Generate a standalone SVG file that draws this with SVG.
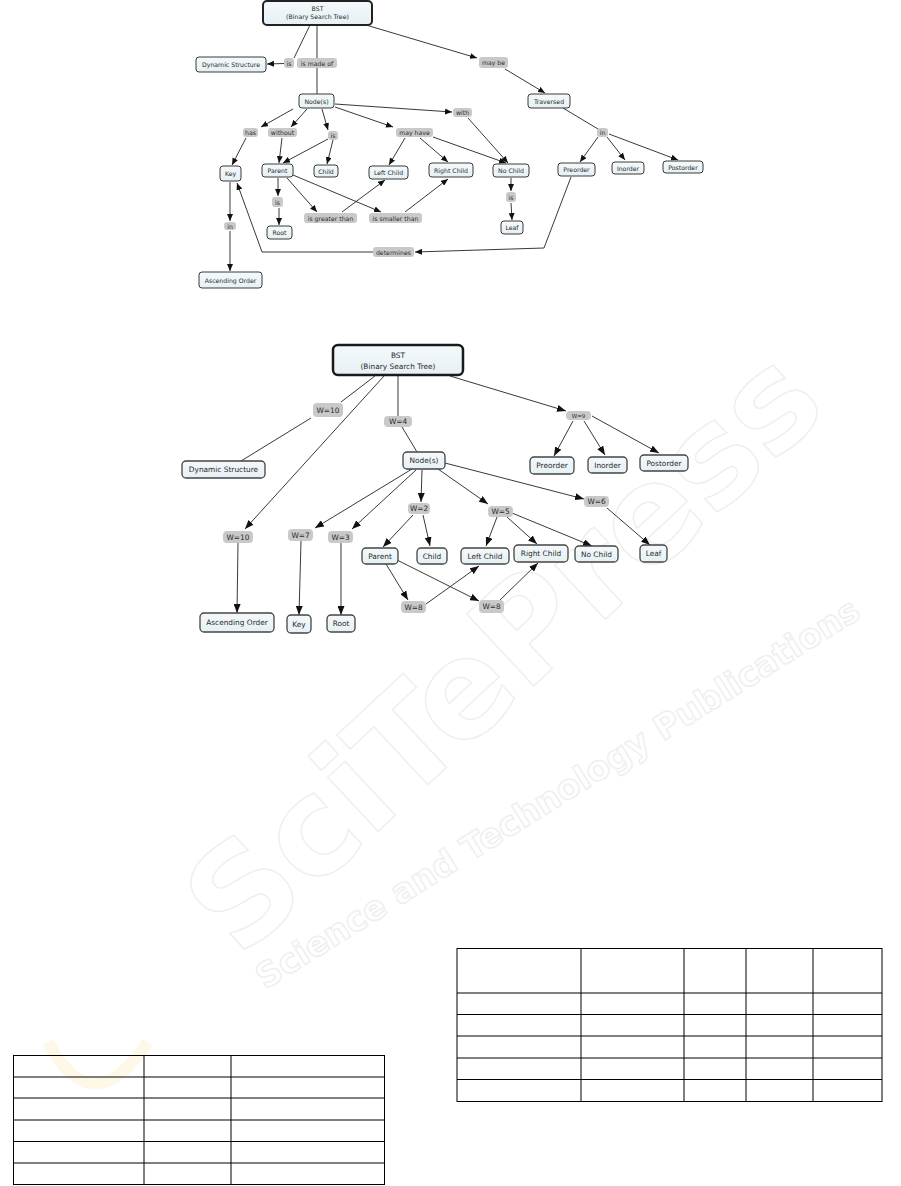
<svg xmlns="http://www.w3.org/2000/svg" width="901" height="1186" viewBox="0 0 901 1186">
<defs>
<marker id="as" markerWidth="7" markerHeight="6" refX="7" refY="3" orient="auto" markerUnits="userSpaceOnUse"><path d="M0,0 L7,3 L0,6 z" fill="#111"/></marker>
<marker id="ab" markerWidth="9" markerHeight="7" refX="9" refY="3.5" orient="auto" markerUnits="userSpaceOnUse"><path d="M0,0 L9,3.5 L0,7 z" fill="#111"/></marker>
<linearGradient id="ng" x1="0" y1="0" x2="0" y2="1"><stop offset="0" stop-color="#f4f9fb"/><stop offset="1" stop-color="#e6f0f4"/></linearGradient>
</defs>
<style>
.n rect{fill:url(#ng);stroke:#3a3a3a;stroke-width:1}
.nb rect{fill:url(#ng);stroke:#444;stroke-width:1.3}
.l rect{fill:#c9c9c9;stroke:none}
text{font-family:"DejaVu Sans","Liberation Sans",sans-serif;fill:#2a2a2a;text-anchor:middle;dominant-baseline:central}
.t text{font-size:6.2px}
.b text{font-size:7.4px}
.c line,.c polyline{stroke:#222;stroke-width:0.9;fill:none}
.cs line,.cs polyline{marker-end:url(#as)}
.cb line{marker-end:url(#ab)}
.tb line{stroke:#000;stroke-width:1}
#watermark text{fill:none;stroke:#efefef;stroke-width:1.5;font-family:"DejaVu Sans",sans-serif;font-weight:bold;text-anchor:start;dominant-baseline:auto}
</style>
<rect width="901" height="1186" fill="#fff"/>
<g id="watermark">
<path d="M48,1042 Q92,1125 148,1042" fill="none" stroke="#fef8e8" stroke-width="12"/>
<text x="0" y="0" font-size="135" transform="translate(240,960) rotate(-43)">SciTePress</text>
<text x="0" y="0" font-size="34" transform="translate(265,990) rotate(-32)">Science and Technology Publications</text>
</g>

<!-- TOP DIAGRAM connectors -->
<g id="top-connectors" class="c">
<line x1="310" y1="25" x2="294" y2="58"/>
<line x1="317" y1="25" x2="317" y2="58"/>
<line x1="317" y1="68" x2="317" y2="94"/>
<line x1="563" y1="108" x2="598" y2="129"/>
<g class="cs">
<line x1="284" y1="63.5" x2="267" y2="64"/>
<line x1="366" y1="25" x2="477" y2="58"/>
<line x1="505" y1="69" x2="545" y2="93"/>
<line x1="598" y1="137" x2="580" y2="162"/>
<line x1="607" y1="137" x2="625" y2="160"/>
<line x1="609" y1="134" x2="678" y2="160"/>
<line x1="335" y1="104" x2="452" y2="112"/>
<line x1="468" y1="118" x2="508" y2="163"/>
<line x1="293" y1="109" x2="261" y2="127"/>
<line x1="307" y1="109" x2="291" y2="127"/>
<line x1="322" y1="109" x2="328" y2="130"/>
<line x1="335" y1="107" x2="393" y2="127"/>
<line x1="246" y1="138" x2="232" y2="165"/>
<line x1="282" y1="138" x2="279" y2="163"/>
<line x1="328" y1="139" x2="283" y2="163"/>
<line x1="333" y1="140" x2="327" y2="164"/>
<line x1="405" y1="138" x2="389" y2="165"/>
<line x1="420" y1="138" x2="448" y2="162"/>
<line x1="433" y1="137" x2="506" y2="163"/>
<line x1="511" y1="178" x2="511" y2="191"/>
<line x1="511" y1="203" x2="512" y2="220"/>
<line x1="278" y1="178" x2="278" y2="196"/>
<line x1="279" y1="208" x2="279" y2="225"/>
<line x1="287" y1="178" x2="317" y2="212"/>
<line x1="293" y1="175" x2="381" y2="212"/>
<line x1="342" y1="212" x2="385" y2="180"/>
<line x1="405" y1="212" x2="448" y2="179"/>
<line x1="230" y1="182" x2="230" y2="221"/>
<line x1="230" y1="231" x2="230" y2="271"/>
<polyline points="571,177 544,248 415,252"/>
<polyline points="373,252 262,252 237,183"/>
</g>
</g>

<!-- TOP DIAGRAM nodes -->
<g class="t">
<g id="t-bst" class="n"><rect x="263" y="1" width="109" height="24" rx="4" style="stroke-width:2;stroke:#222"/><text x="317.5" y="8.5">BST</text><text x="317.5" y="16.5">(Binary Search Tree)</text></g>
<g id="t-dynamic" class="n"><rect x="196" y="57" width="70" height="15" rx="3"/><text x="231" y="64.5">Dynamic Structure</text></g>
<g id="t-nodes" class="n"><rect x="299" y="94" width="35" height="14" rx="3"/><text x="316.5" y="101">Node(s)</text></g>
<g id="t-traversed" class="n"><rect x="528" y="94" width="42" height="14" rx="3"/><text x="549" y="101">Traversed</text></g>
<g id="t-key" class="n"><rect x="220" y="166" width="21" height="15" rx="3"/><text x="230.5" y="173.5">Key</text></g>
<g id="t-parent" class="n"><rect x="262" y="164" width="31" height="13" rx="3"/><text x="277.5" y="170.5">Parent</text></g>
<g id="t-child" class="n"><rect x="314" y="165" width="24" height="12" rx="3"/><text x="326" y="171">Child</text></g>
<g id="t-left" class="n"><rect x="369" y="166" width="39" height="13" rx="3"/><text x="388.5" y="172.5">Left Child</text></g>
<g id="t-right" class="n"><rect x="429" y="163" width="44" height="14" rx="3"/><text x="451" y="170">Right Child</text></g>
<g id="t-nochild" class="n"><rect x="493" y="164" width="36" height="13" rx="3"/><text x="511" y="170.5">No Child</text></g>
<g id="t-preorder" class="n"><rect x="558" y="163" width="37" height="13" rx="3"/><text x="576.5" y="169.5">Preorder</text></g>
<g id="t-inorder" class="n"><rect x="612" y="162" width="32" height="12" rx="3"/><text x="628" y="168">Inorder</text></g>
<g id="t-postorder" class="n"><rect x="663" y="161" width="40" height="12" rx="3"/><text x="683" y="167">Postorder</text></g>
<g id="t-leaf" class="n"><rect x="501" y="221" width="22" height="13" rx="3"/><text x="512" y="227.5">Leaf</text></g>
<g id="t-root" class="n"><rect x="267" y="226" width="25" height="13" rx="3"/><text x="279.5" y="232.5">Root</text></g>
<g id="t-asc" class="n"><rect x="199" y="272" width="63" height="16" rx="3"/><text x="230.5" y="280">Ascending Order</text></g>

<g id="tl-is1" class="l"><rect x="284" y="58" width="10" height="10" rx="3"/><text x="289" y="63">is</text></g>
<g id="tl-madeof" class="l"><rect x="297" y="58" width="40" height="10" rx="3"/><text x="317" y="63">is made of</text></g>
<g id="tl-maybe" class="l"><rect x="479" y="57" width="29" height="11" rx="3"/><text x="493.5" y="62.5">may be</text></g>
<g id="tl-has" class="l"><rect x="243" y="128" width="15" height="9" rx="3"/><text x="250.5" y="132.5">has</text></g>
<g id="tl-without" class="l"><rect x="268" y="128" width="29" height="9" rx="3"/><text x="282.5" y="132.5">without</text></g>
<g id="tl-is2" class="l"><rect x="328" y="131" width="10" height="9" rx="3"/><text x="333" y="135.5">is</text></g>
<g id="tl-mayhave" class="l"><rect x="396" y="128" width="37" height="9" rx="3"/><text x="414.5" y="132.5">may have</text></g>
<g id="tl-with" class="l"><rect x="453" y="108" width="19" height="9" rx="3"/><text x="462.5" y="112.5">with</text></g>
<g id="tl-in1" class="l"><rect x="597" y="128" width="11" height="9" rx="3"/><text x="602.5" y="132.5">in</text></g>
<g id="tl-is3" class="l"><rect x="506" y="192" width="10" height="10" rx="3"/><text x="511" y="197">is</text></g>
<g id="tl-is4" class="l"><rect x="272" y="197" width="11" height="10" rx="3"/><text x="277.5" y="202">is</text></g>
<g id="tl-greater" class="l"><rect x="304" y="213" width="53" height="10" rx="3"/><text x="330.5" y="218">is greater than</text></g>
<g id="tl-smaller" class="l"><rect x="369" y="213" width="53" height="10" rx="3"/><text x="395.5" y="218">is smaller than</text></g>
<g id="tl-in2" class="l"><rect x="224" y="222" width="12" height="8" rx="3"/><text x="230" y="226">in</text></g>
<g id="tl-determines" class="l"><rect x="373" y="247" width="41" height="10" rx="3"/><text x="393.5" y="252">determines</text></g>
</g>

<!-- BOTTOM DIAGRAM connectors -->
<g id="bottom-connectors" class="c">
<line x1="375" y1="376" x2="341" y2="402"/>
<line x1="311" y1="418" x2="241" y2="461"/>
<line x1="398" y1="375" x2="398" y2="416"/>
<line x1="402" y1="427" x2="417" y2="452"/>
<g class="cb">
<line x1="384" y1="376" x2="245" y2="529"/>
<line x1="450" y1="376" x2="566" y2="411"/>
<line x1="573" y1="421" x2="554" y2="456"/>
<line x1="584" y1="421" x2="605" y2="455"/>
<line x1="592" y1="416" x2="659" y2="453"/>
<line x1="412" y1="469" x2="315" y2="528"/>
<line x1="416" y1="470" x2="352" y2="529"/>
<line x1="422" y1="470" x2="421" y2="502"/>
<line x1="438" y1="469" x2="488" y2="504"/>
<line x1="445" y1="463" x2="584" y2="499"/>
<line x1="413" y1="515" x2="383" y2="547"/>
<line x1="423" y1="515" x2="430" y2="546"/>
<line x1="497" y1="517" x2="486" y2="546"/>
<line x1="507" y1="517" x2="537" y2="544"/>
<line x1="512" y1="513" x2="592" y2="546"/>
<line x1="607" y1="508" x2="650" y2="545"/>
<line x1="238" y1="543" x2="237" y2="613"/>
<line x1="301" y1="541" x2="299" y2="615"/>
<line x1="341" y1="543" x2="341" y2="615"/>
<line x1="386" y1="564" x2="408" y2="600"/>
<line x1="397" y1="560" x2="479" y2="601"/>
<line x1="426" y1="604" x2="479" y2="566"/>
<line x1="500" y1="600" x2="538" y2="563"/>
</g>
</g>

<!-- BOTTOM DIAGRAM nodes -->
<g class="b">
<g id="b-bst" class="nb"><rect x="333" y="345" width="130" height="30" rx="5" style="stroke-width:2.5;stroke:#1a1a1a"/><text x="398" y="355">BST</text><text x="398" y="366">(Binary Search Tree)</text></g>
<g id="b-dynamic" class="nb"><rect x="182" y="461" width="83" height="17" rx="4"/><text x="223.5" y="469.5">Dynamic Structure</text></g>
<g id="b-nodes" class="nb"><rect x="403" y="452" width="42" height="17" rx="4"/><text x="424" y="460.5">Node(s)</text></g>
<g id="b-preorder" class="nb"><rect x="530" y="457" width="44" height="17" rx="4"/><text x="552" y="465.5">Preorder</text></g>
<g id="b-inorder" class="nb"><rect x="588" y="457" width="39" height="16" rx="4"/><text x="607.5" y="465">Inorder</text></g>
<g id="b-postorder" class="nb"><rect x="640" y="455" width="48" height="16" rx="4"/><text x="664" y="463">Postorder</text></g>
<g id="b-parent" class="nb"><rect x="362" y="548" width="36" height="16" rx="4"/><text x="380" y="556">Parent</text></g>
<g id="b-child" class="nb"><rect x="417" y="548" width="30" height="16" rx="4"/><text x="432" y="556">Child</text></g>
<g id="b-left" class="nb"><rect x="461" y="548" width="48" height="16" rx="4"/><text x="485" y="556">Left Child</text></g>
<g id="b-right" class="nb"><rect x="514" y="545" width="54" height="17" rx="4"/><text x="541" y="553.5">Right Child</text></g>
<g id="b-nochild" class="nb"><rect x="575" y="546" width="43" height="16" rx="4"/><text x="596.5" y="554">No Child</text></g>
<g id="b-leaf" class="nb"><rect x="640" y="545" width="27" height="17" rx="4"/><text x="653.5" y="553.5">Leaf</text></g>
<g id="b-asc" class="nb"><rect x="200" y="613" width="74" height="19" rx="4"/><text x="237" y="622.5">Ascending Order</text></g>
<g id="b-key" class="nb"><rect x="287" y="615" width="24" height="18" rx="4"/><text x="299" y="624">Key</text></g>
<g id="b-root" class="nb"><rect x="327" y="615" width="28" height="17" rx="4"/><text x="341" y="623.5">Root</text></g>

<g id="bl-w10a" class="l"><rect x="313" y="403" width="30" height="14" rx="4"/><text x="328" y="410">W=10</text></g>
<g id="bl-w4" class="l"><rect x="384" y="416" width="28" height="11" rx="4"/><text x="398" y="421.5">W=4</text></g>
<g id="bl-w9" class="l"><rect x="566" y="411" width="25" height="9" rx="4"/><text x="578.5" y="415.5" style="font-size:5.5px">W=9</text></g>
<g id="bl-w10b" class="l"><rect x="223" y="531" width="30" height="12" rx="4"/><text x="238" y="537">W=10</text></g>
<g id="bl-w7" class="l"><rect x="288" y="529" width="25" height="12" rx="4"/><text x="300.5" y="535">W=7</text></g>
<g id="bl-w3" class="l"><rect x="328" y="531" width="25" height="12" rx="4"/><text x="340.5" y="537">W=3</text></g>
<g id="bl-w2" class="l"><rect x="408" y="503" width="22" height="11" rx="4"/><text x="419" y="508.5">W=2</text></g>
<g id="bl-w5" class="l"><rect x="488" y="506" width="25" height="11" rx="4"/><text x="500.5" y="511.5">W=5</text></g>
<g id="bl-w6" class="l"><rect x="584" y="496" width="25" height="11" rx="4"/><text x="596.5" y="501.5">W=6</text></g>
<g id="bl-w8a" class="l"><rect x="401" y="601" width="25" height="12" rx="4"/><text x="413.5" y="607">W=8</text></g>
<g id="bl-w8b" class="l"><rect x="479" y="600" width="25" height="13" rx="4"/><text x="491.5" y="606.5">W=8</text></g>
</g>

<!-- TABLES -->
<g id="table-left" class="tb">
<rect x="13.5" y="1055.5" width="371" height="129" fill="none" stroke="#000" stroke-width="1"/>
<line x1="144" y1="1055" x2="144" y2="1185"/>
<line x1="231" y1="1055" x2="231" y2="1185"/>
<line x1="13" y1="1077" x2="385" y2="1077"/>
<line x1="13" y1="1098" x2="385" y2="1098"/>
<line x1="13" y1="1120" x2="385" y2="1120"/>
<line x1="13" y1="1141.5" x2="385" y2="1141.5"/>
<line x1="13" y1="1163" x2="385" y2="1163"/>
</g>
<g id="table-right" class="tb">
<rect x="457" y="948.5" width="425" height="153" fill="none" stroke="#000" stroke-width="1"/>
<line x1="581" y1="948" x2="581" y2="1102"/>
<line x1="684" y1="948" x2="684" y2="1102"/>
<line x1="746" y1="948" x2="746" y2="1102"/>
<line x1="813" y1="948" x2="813" y2="1102"/>
<line x1="457" y1="993" x2="882" y2="993"/>
<line x1="457" y1="1014.5" x2="882" y2="1014.5"/>
<line x1="457" y1="1036" x2="882" y2="1036"/>
<line x1="457" y1="1058" x2="882" y2="1058"/>
<line x1="457" y1="1079.5" x2="882" y2="1079.5"/>
</g>
</svg>
